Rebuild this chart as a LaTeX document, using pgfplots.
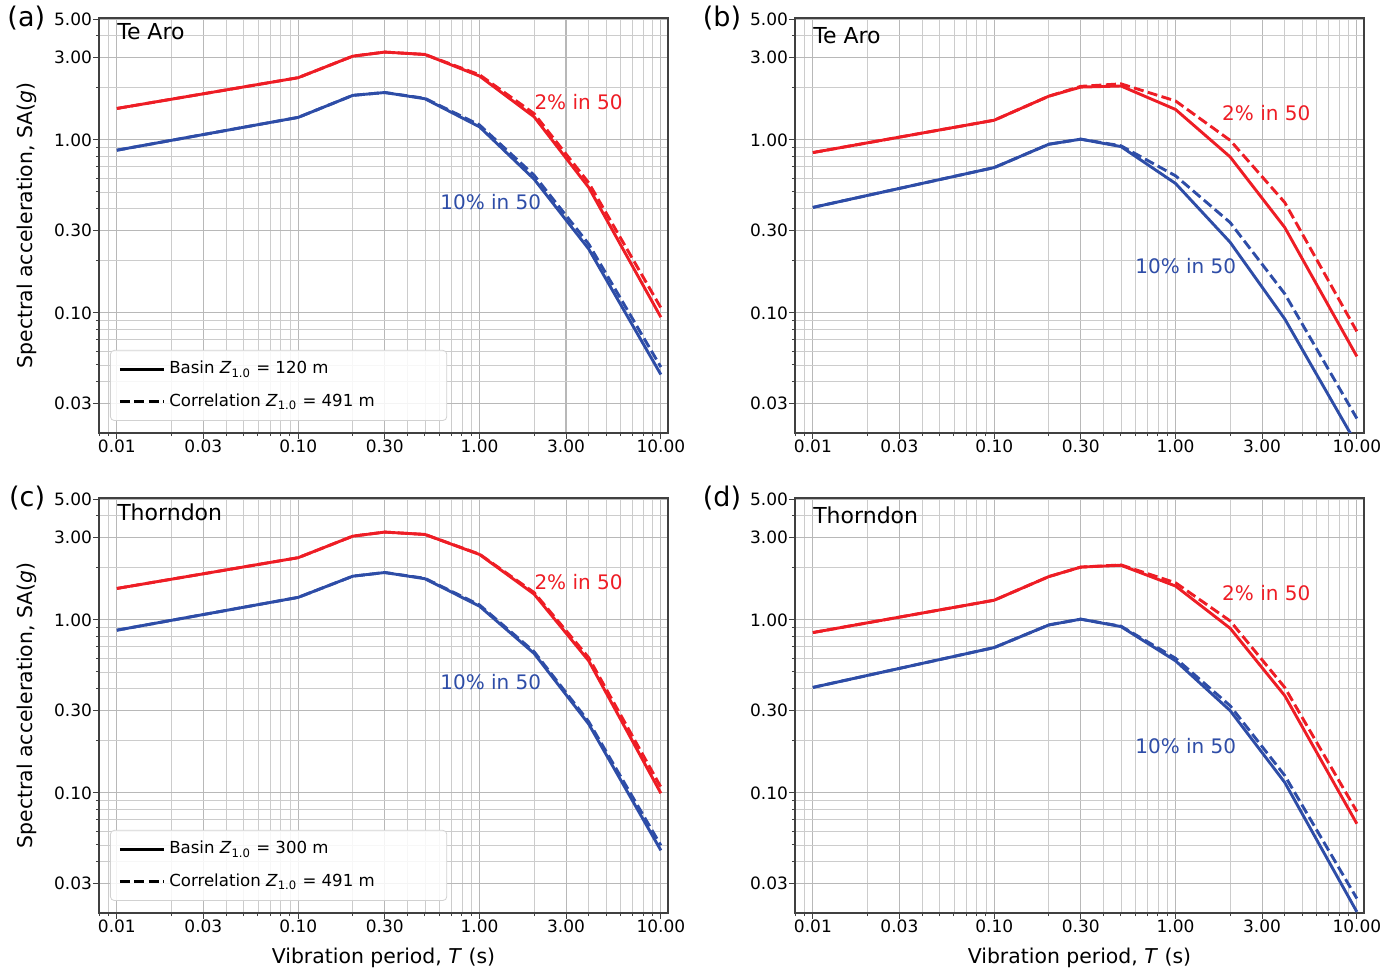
\documentclass[border=0pt]{standalone}
\usepackage{pgfplots}
\pgfplotsset{compat=1.18}
\usepgfplotslibrary{groupplots}
\usepackage{pgfplotstable}
\usepackage{fontspec}
\setmainfont{DejaVu Sans}
\definecolor{cred}{HTML}{EE1D25}
\definecolor{cblue}{HTML}{2E4DA7}
\pgfplotsset{legend image code/.code={\draw[#1] (0pt,0pt) -- (22pt,0pt);}}

\pgfplotstableread{
T rs rd bs bd
0.01 1.52 1.52 0.872 0.872
0.1 2.29 2.29 1.35 1.35
0.2 3.05 3.05 1.81 1.81
0.3 3.22 3.22 1.88 1.88
0.5 3.12 3.12 1.73 1.74
1.0 2.34 2.38 1.19 1.22
2.0 1.36 1.42 0.593 0.625
4.0 0.531 0.565 0.234 0.250
10 0.0944 0.107 0.044 0.0486
}\tabA
\pgfplotstableread{
T rs rd bs bd
0.01 0.845 0.845 0.407 0.407
0.1 1.30 1.30 0.692 0.692
0.2 1.79 1.79 0.944 0.944
0.3 2.02 2.04 1.01 1.01
0.5 2.05 2.11 0.915 0.925
1.0 1.50 1.68 0.560 0.620
2.0 0.798 0.995 0.256 0.333
4.0 0.312 0.435 0.0923 0.129
10 0.056 0.078 0.0173 0.0245
}\tabB
\pgfplotstableread{
T rs rd bs bd
0.01 1.52 1.52 0.872 0.872
0.1 2.29 2.29 1.35 1.35
0.2 3.05 3.05 1.79 1.79
0.3 3.22 3.22 1.88 1.88
0.5 3.12 3.12 1.73 1.74
1.0 2.39 2.40 1.20 1.22
2.0 1.41 1.44 0.640 0.655
4.0 0.580 0.605 0.250 0.258
10 0.0995 0.108 0.0465 0.0497
}\tabC
\pgfplotstableread{
T rs rd bs bd
0.01 0.845 0.845 0.407 0.407
0.1 1.30 1.30 0.692 0.692
0.2 1.78 1.78 0.935 0.935
0.3 2.02 2.02 1.01 1.01
0.5 2.07 2.08 0.915 0.920
1.0 1.57 1.64 0.580 0.600
2.0 0.895 0.987 0.299 0.319
4.0 0.365 0.407 0.115 0.126
10 0.0663 0.078 0.0205 0.0245
}\tabD

\begin{document}
\begin{tikzpicture}
\begin{groupplot}[
    group style={group size=2 by 2, horizontal sep=63.5pt, vertical sep=32.5pt},
    xmode=log, ymode=log, scale only axis, width=284.5pt, height=207.5pt,
    clip mode=individual,
    xmin=0.00797, xmax=10.95, ymin=0.0202, ymax=5.07,
    xtick={0.01,0.03,0.1,0.3,1,3,10},
    xticklabels={0.01,0.03,0.10,0.30,1.00,3.00,10.00},
    ytick={0.03,0.1,0.3,1,3,5},
    yticklabels={0.03,0.10,0.30,1.00,3.00,5.00},
    minor xtick={0.008,0.009,0.02,0.04,0.05,0.06,0.07,0.08,0.09,0.2,0.4,0.5,0.6,0.7,0.8,0.9,2,4,5,6,7,8,9},
    minor ytick={0.02,0.04,0.05,0.06,0.07,0.08,0.09,0.2,0.4,0.5,0.6,0.7,0.8,0.9,2,4},
    grid=both,
    major grid style={black!28, line width=0.55pt},
    minor grid style={black!20, line width=0.4pt},
    tick align=outside, tick pos=left,
    major tick length=3pt, minor tick length=1.6pt,
    tick style={black!75, line width=0.5pt},
    axis line style={black!75, line width=0.6pt},
    ticklabel style={font=\fontsize{8.5}{10}\selectfont},
    xticklabel style={yshift=3pt},
    yticklabel style={xshift=3pt},
    xlabel style={font=\fontsize{10.2}{12}\selectfont, at={(axis description cs:0.5,-0.108)}, anchor=center},
    ylabel style={font=\fontsize{10.2}{12}\selectfont, at={(axis description cs:-0.127,0.5)}, anchor=center},
    legend style={at={(axis description cs:0.0193,0.029)}, anchor=south west,
      draw=black!18, fill=white, fill opacity=0.85, text opacity=1,
      rounded corners=2pt, font=\fontsize{8.3}{10}\selectfont,
      row sep=4.5pt, inner xsep=4pt, inner ysep=3.5pt},
    legend cell align=left,
  ]

% (a)
\nextgroupplot[ylabel={Spectral acceleration, SA(\textit{g})}]
\addplot[cred, line width=1.45pt, line join=round, forget plot] table[x=T,y=rs] {\tabA};
\addplot[cred, line width=1.45pt, line join=round, dash pattern=on 5pt off 2.2pt, forget plot] table[x=T,y=rd] {\tabA};
\addplot[cblue, line width=1.45pt, line join=round, forget plot] table[x=T,y=bs] {\tabA};
\addplot[cblue, line width=1.45pt, line join=round, dash pattern=on 5pt off 2.2pt, forget plot] table[x=T,y=bd] {\tabA};
\node[anchor=west, inner sep=0pt, font=\fontsize{11}{13}\selectfont] at (axis cs:0.01,4.2) {Te Aro};
\node[anchor=north east, inner sep=0pt, font=\fontsize{13.5}{16}\selectfont] at (axis description cs:-0.094,1.03) {(a)};
\node[anchor=west, inner sep=0pt, text=cred, font=\fontsize{10}{12}\selectfont] at (axis cs:2.0,1.66) {2\% in 50};
\node[anchor=west, inner sep=0pt, text=cblue, font=\fontsize{10}{12}\selectfont] at (axis cs:0.605,0.438) {10\% in 50};
\addlegendimage{black, line width=1.45pt}
\addlegendentry{Basin \textit{Z}\textsubscript{1.0} = 120 m}
\addlegendimage{black, line width=1.45pt, dash pattern=on 5pt off 2.2pt}
\addlegendentry{Correlation \textit{Z}\textsubscript{1.0} = 491 m\hspace*{30pt}}

% (b)
\nextgroupplot
\addplot[cred, line width=1.45pt, line join=round, forget plot] table[x=T,y=rs] {\tabB};
\addplot[cred, line width=1.45pt, line join=round, dash pattern=on 5pt off 2.2pt, forget plot] table[x=T,y=rd] {\tabB};
\addplot[cblue, line width=1.45pt, line join=round, forget plot] table[x=T,y=bs] {\tabB};
\addplot[cblue, line width=1.45pt, line join=round, dash pattern=on 5pt off 2.2pt, forget plot] table[x=T,y=bd] {\tabB};
\node[anchor=west, inner sep=0pt, font=\fontsize{11}{13}\selectfont] at (axis cs:0.01,4.0) {Te Aro};
\node[anchor=north east, inner sep=0pt, font=\fontsize{13.5}{16}\selectfont] at (axis description cs:-0.094,1.03) {(b)};
\node[anchor=west, inner sep=0pt, text=cred, font=\fontsize{10}{12}\selectfont] at (axis cs:1.80,1.43) {2\% in 50};
\node[anchor=west, inner sep=0pt, text=cblue, font=\fontsize{10}{12}\selectfont] at (axis cs:0.597,0.187) {10\% in 50};

% (c)
\nextgroupplot[ylabel={Spectral acceleration, SA(\textit{g})}, xlabel={Vibration period, \textit{T} (s)}]
\addplot[cred, line width=1.45pt, line join=round, forget plot] table[x=T,y=rs] {\tabC};
\addplot[cred, line width=1.45pt, line join=round, dash pattern=on 5pt off 2.2pt, forget plot] table[x=T,y=rd] {\tabC};
\addplot[cblue, line width=1.45pt, line join=round, forget plot] table[x=T,y=bs] {\tabC};
\addplot[cblue, line width=1.45pt, line join=round, dash pattern=on 5pt off 2.2pt, forget plot] table[x=T,y=bd] {\tabC};
\node[anchor=west, inner sep=0pt, font=\fontsize{11}{13}\selectfont] at (axis cs:0.01,4.2) {Thorndon};
\node[anchor=north east, inner sep=0pt, font=\fontsize{13.5}{16}\selectfont] at (axis description cs:-0.094,1.03) {(c)};
\node[anchor=west, inner sep=0pt, text=cred, font=\fontsize{10}{12}\selectfont] at (axis cs:2.0,1.66) {2\% in 50};
\node[anchor=west, inner sep=0pt, text=cblue, font=\fontsize{10}{12}\selectfont] at (axis cs:0.605,0.438) {10\% in 50};
\addlegendimage{black, line width=1.45pt}
\addlegendentry{Basin \textit{Z}\textsubscript{1.0} = 300 m}
\addlegendimage{black, line width=1.45pt, dash pattern=on 5pt off 2.2pt}
\addlegendentry{Correlation \textit{Z}\textsubscript{1.0} = 491 m\hspace*{30pt}}

% (d)
\nextgroupplot[xlabel={Vibration period, \textit{T} (s)}]
\addplot[cred, line width=1.45pt, line join=round, forget plot] table[x=T,y=rs] {\tabD};
\addplot[cred, line width=1.45pt, line join=round, dash pattern=on 5pt off 2.2pt, forget plot] table[x=T,y=rd] {\tabD};
\addplot[cblue, line width=1.45pt, line join=round, forget plot] table[x=T,y=bs] {\tabD};
\addplot[cblue, line width=1.45pt, line join=round, dash pattern=on 5pt off 2.2pt, forget plot] table[x=T,y=bd] {\tabD};
\node[anchor=west, inner sep=0pt, font=\fontsize{11}{13}\selectfont] at (axis cs:0.01,4.0) {Thorndon};
\node[anchor=north east, inner sep=0pt, font=\fontsize{13.5}{16}\selectfont] at (axis description cs:-0.094,1.03) {(d)};
\node[anchor=west, inner sep=0pt, text=cred, font=\fontsize{10}{12}\selectfont] at (axis cs:1.80,1.43) {2\% in 50};
\node[anchor=west, inner sep=0pt, text=cblue, font=\fontsize{10}{12}\selectfont] at (axis cs:0.597,0.187) {10\% in 50};
\end{groupplot}
\pgfresetboundingbox
\path[use as bounding box] ([xshift=-49.5pt, yshift=9pt]group c1r1.north west) rectangle ([xshift=648.5pt, yshift=-475pt]group c1r1.north west);
\end{tikzpicture}
\end{document}
